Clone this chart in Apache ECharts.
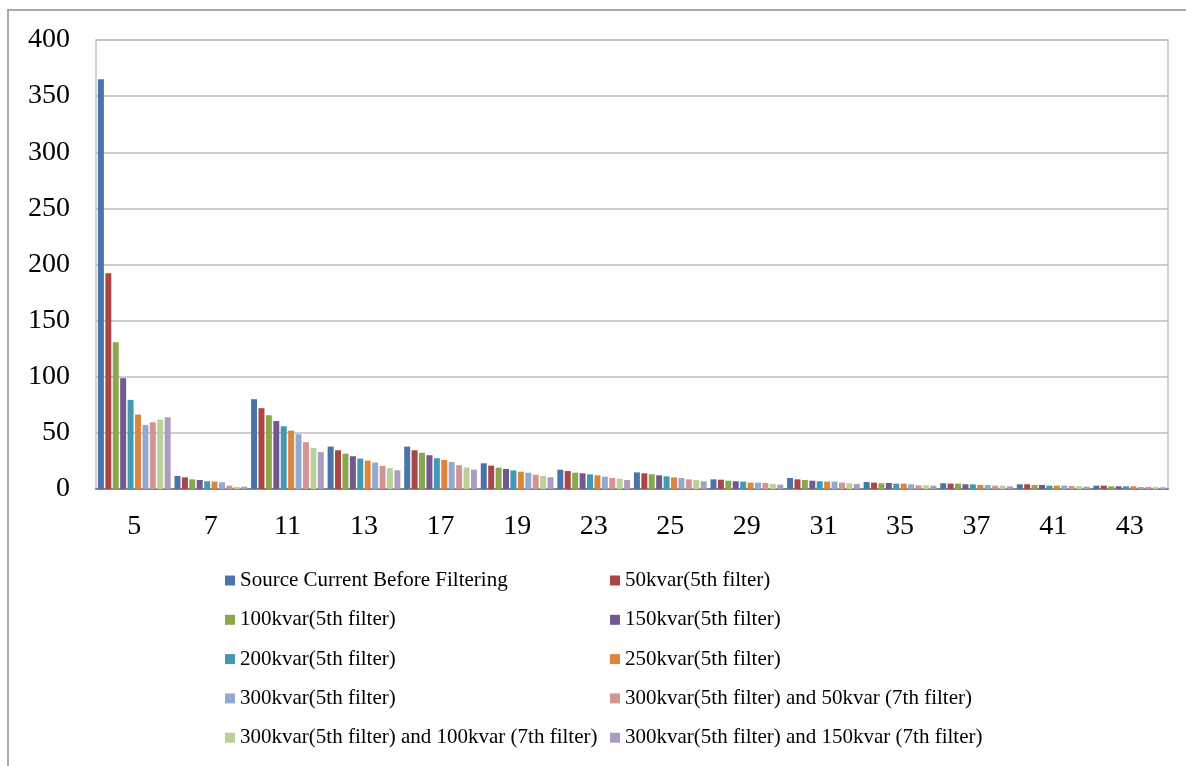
<!DOCTYPE html>
<html>
<head>
<meta charset="utf-8">
<title>Harmonic source current with passive filters</title>
<script src="https://cdn.jsdelivr.net/npm/echarts@6/dist/echarts.min.js"></script>
<style>
  html, body { margin: 0; padding: 0; background: #ffffff; }
  #chart { width: 1186px; height: 766px; }
</style>
</head>
<body>
<div id="chart"></div>
<script>
// Harmonic orders on the category axis
const harmonics = ['5', '7', '11', '13', '17', '19', '23', '25', '29', '31', '35', '37', '41', '43'];

// Value axis ticks
const yTicks = [0, 50, 100, 150, 200, 250, 300, 350, 400];

// Series names, in legend order
const seriesNames = [
  'Source Current Before Filtering',
  '50kvar(5th filter)',
  '100kvar(5th filter)',
  '150kvar(5th filter)',
  '200kvar(5th filter)',
  '250kvar(5th filter)',
  '300kvar(5th filter)',
  '300kvar(5th filter) and 50kvar (7th filter)',
  '300kvar(5th filter) and 100kvar (7th filter)',
  '300kvar(5th filter) and 150kvar (7th filter)'
];

// Harmonic current per order, one array per filter configuration
const sourceBefore = [365, 11.6, 80.0, 37.8, 37.8, 22.9, 17.2, 14.8, 8.6, 9.8, 6.2, 5.1, 4.2, 3.0];
const kvar50       = [192.2, 10.4, 72.0, 34.5, 34.5, 20.8, 16.0, 14.0, 8.3, 8.6, 5.7, 4.8, 4.2, 3.0];
const kvar100      = [130.8, 8.6, 65.7, 31.5, 32.2, 19.0, 14.5, 13.1, 7.4, 8.0, 5.1, 4.8, 3.6, 2.4];
const kvar150      = [98.7, 8.0, 60.6, 29.2, 30.1, 17.8, 14.0, 12.2, 6.9, 7.4, 5.4, 4.2, 3.6, 2.4];
const kvar200      = [79.4, 6.9, 55.9, 27.1, 27.4, 16.6, 13.1, 11.3, 6.6, 6.9, 4.8, 4.2, 3.0, 2.4];
const kvar250      = [66.3, 6.6, 52.0, 25.3, 25.9, 15.4, 12.2, 10.4, 5.7, 6.6, 4.8, 3.6, 3.0, 2.4];
const kvar300      = [57.1, 6.0, 48.8, 23.6, 24.1, 14.5, 11.0, 9.8, 5.7, 6.6, 4.2, 3.6, 3.0, 1.8];
const kvar300_50   = [59.5, 3.0, 41.7, 20.6, 21.2, 12.7, 9.8, 8.6, 5.4, 5.7, 3.3, 3.0, 2.7, 1.8];
const kvar300_100  = [61.8, 1.8, 36.6, 18.5, 19.1, 11.6, 9.2, 8.0, 4.5, 5.1, 3.3, 3.0, 2.7, 1.8];
const kvar300_150  = [63.9, 2.1, 32.8, 16.7, 17.3, 10.4, 8.0, 6.9, 3.9, 4.5, 3.0, 2.4, 2.1, 1.5];

const seriesValues = [
  sourceBefore, kvar50, kvar100, kvar150, kvar200,
  kvar250, kvar300, kvar300_50, kvar300_100, kvar300_150
];

const palette = [
  '#4a74a8', '#aa4644', '#8aa64f', '#71588f', '#4499b0',
  '#dc853f', '#94a9d0', '#d39494', '#bcd09a', '#aa9dbf'
];

const serif = "'Liberation Serif', 'Times New Roman', 'DejaVu Serif', serif";

const chart = echarts.init(document.getElementById('chart'), null, { renderer: 'canvas' });

const legendText = {
  fontFamily: serif,
  fontSize: 21,
  color: '#000000',
  lineHeight: 23
};

const legendCommon = {
  orient: 'vertical',
  top: 569,
  padding: 0,
  itemWidth: 10,
  itemHeight: 10,
  itemGap: 16.3,
  icon: 'rect',
  selectedMode: false,
  textStyle: legendText
};

chart.setOption({
  animation: false,
  backgroundColor: '#ffffff',
  color: palette,
  graphic: [{
    type: 'rect',
    silent: true,
    shape: { x: 8, y: 10, width: 1200, height: 800 },
    style: { fill: 'none', stroke: '#a9a9a9', lineWidth: 2 }
  }],
  grid: {
    left: 96,
    right: 18,
    top: 40,
    bottom: 277,
    show: true,
    borderColor: '#c2c2c2',
    borderWidth: 1.5,
    backgroundColor: 'transparent'
  },
  legend: [
    Object.assign({ left: 225, data: seriesNames.filter((_, i) => i % 2 === 0) }, legendCommon),
    Object.assign({ left: 610, data: seriesNames.filter((_, i) => i % 2 === 1) }, legendCommon)
  ],
  xAxis: {
    type: 'category',
    data: harmonics,
    axisLine: { show: true, lineStyle: { color: '#888888', width: 2 } },
    axisTick: { show: false },
    axisLabel: {
      margin: 24,
      fontFamily: serif,
      fontSize: 28,
      color: '#000000'
    },
    splitLine: { show: false }
  },
  yAxis: {
    type: 'value',
    min: yTicks[0],
    max: yTicks[yTicks.length - 1],
    interval: yTicks[1] - yTicks[0],
    axisLine: { show: false },
    axisTick: { show: false },
    axisLabel: {
      margin: 26,
      fontFamily: serif,
      fontSize: 28,
      color: '#000000'
    },
    splitLine: { show: true, lineStyle: { color: '#bdbdbd', width: 1.5 } }
  },
  series: seriesNames.map((name, i) => ({
    name: name,
    type: 'bar',
    data: seriesValues[i],
    barGap: '24%',
    barCategoryGap: '5%',
    itemStyle: {
      color: palette[i]
    }
  }))
});
</script>
</body>
</html>
